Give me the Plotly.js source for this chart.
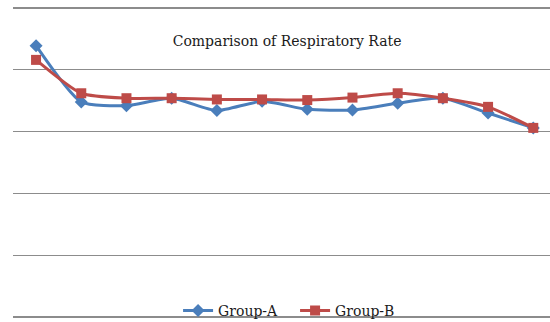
<!DOCTYPE html>
<html>
<head>
<meta charset="utf-8">
<script src="https://cdn.plot.ly/plotly-3.0.1.min.js"></script>
<style>html,body{margin:0;padding:0;background:#fff;}#chart{width:550px;height:322px;}</style>
</head>
<body>
<div id="chart"></div>
<script>
const categories = [1, 2, 3, 4, 5, 6, 7, 8, 9, 10, 11, 12];
const groupA = [21.95, 17.4, 17.1, 17.7, 16.7, 17.45, 16.8, 16.75, 17.3, 17.7, 16.5, 15.3];
const groupB = [20.8, 18.1, 17.7, 17.7, 17.6, 17.6, 17.55, 17.75, 18.1, 17.7, 17.0, 15.3];
const seriesNames = ["Group-A", "Group-B"];
const titleText = "Comparison of Respiratory Rate";

const fontFam = "DejaVu Serif, serif";
const traces = [
  {
    x: categories, y: groupA, name: seriesNames[0], type: "scatter", mode: "lines+markers",
    line: {color: "#4A7EBB", width: 3, shape: "spline", smoothing: 0.6},
    marker: {symbol: "diamond", size: 10, color: "#4A7EBB"}
  },
  {
    x: categories, y: groupB, name: seriesNames[1], type: "scatter", mode: "lines+markers",
    line: {color: "#BE4B48", width: 3, shape: "spline", smoothing: 0.6},
    marker: {symbol: "square", size: 10, color: "#BE4B48"}
  }
];

const layout = {
  width: 550, height: 322,
  margin: {l: 13, r: 0, t: 4, b: 1, autoexpand: false},
  paper_bgcolor: "#ffffff", plot_bgcolor: "#ffffff",
  showlegend: true,
  title: {text: titleText, font: {family: fontFam, size: 14, color: "#1a1a1a"},
          xref: "container", x: 0.522, xanchor: "center", yref: "container", y: 0.873, yanchor: "middle"},
  xaxis: {range: [0.49, 12.37], showgrid: false, zeroline: false, showticklabels: false, showline: false, ticks: ""},
  yaxis: {range: [-0.32, 25.32], tickvals: [0, 5, 10, 15, 20, 25], showgrid: true, gridcolor: "#8c8c8c", gridwidth: 1.3,
          zeroline: false, showticklabels: false, showline: false, ticks: ""},
  legend: {orientation: "h", x: 0.3074, xanchor: "left", y: 0.032, yanchor: "middle",
           entrywidth: 72, entrywidthmode: "pixels",
           font: {family: fontFam, size: 14, color: "#1a1a1a"}, bgcolor: "rgba(0,0,0,0)", itemwidth: 30},
  font: {family: fontFam}
};

Plotly.newPlot("chart", traces, layout, {staticPlot: true, displayModeBar: false});
</script>
</body>
</html>
